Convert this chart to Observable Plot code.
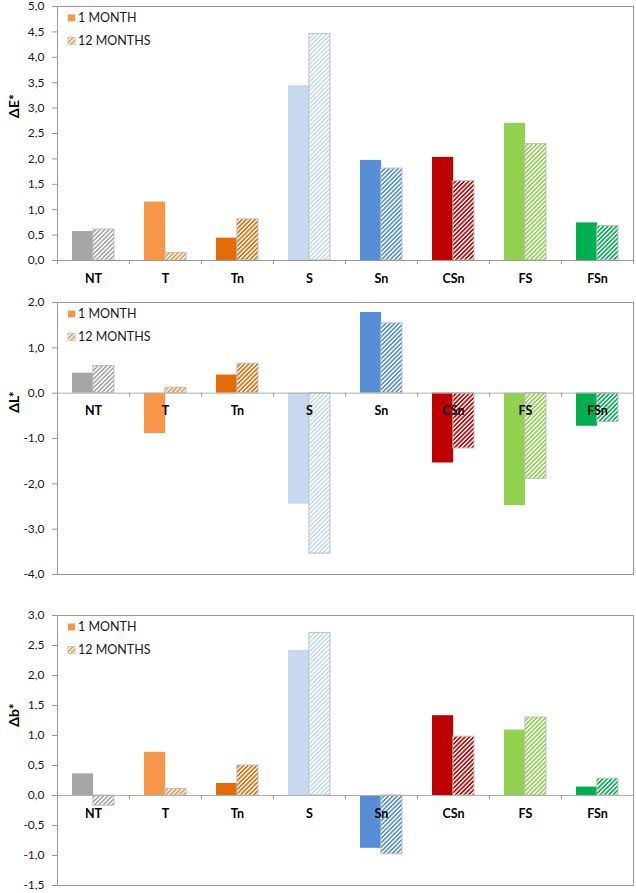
<!DOCTYPE html>
<html><head><meta charset="utf-8">
<script src="https://cdn.jsdelivr.net/npm/d3@7"></script>
<script src="https://cdn.jsdelivr.net/npm/@observablehq/plot@0.6"></script>
<style>
body{margin:0;background:#fff;width:636px;height:893px;overflow:hidden;font-family:Lato,sans-serif}
#chart svg{display:block}
.tick line{stroke:#999}
g[aria-label="y-axis tick"] path{stroke:#999}
</style></head><body>
<svg width="0" height="0" style="position:absolute"><defs id="defs"></defs></svg>
<div id="chart"></div>
<script>
const categories = ["NT","T","Tn","S","Sn","CSn","FS","FSn"];
const colors = ["#a6a6a6","#f79646","#e36c09","#c6d9f1","#558ed5","#c00000","#92d050","#00b050"];
const series = ["1 MONTH","12 MONTHS"];
const dE_1m  = [0.57, 1.15, 0.44, 3.44, 1.97, 2.03, 2.70, 0.74];
const dE_12m = [0.61, 0.15, 0.81, 4.46, 1.81, 1.56, 2.29, 0.68];
const dL_1m  = [0.44, -0.89, 0.40, -2.45, 1.78, -1.54, -2.48, -0.73];
const dL_12m = [0.60, 0.12, 0.65, -3.54, 1.54, -1.22, -1.89, -0.64];
const db_1m  = [0.36, 0.72, 0.20, 2.42, -0.88, 1.33, 1.09, 0.14];
const db_12m = [-0.17, 0.11, 0.50, 2.71, -0.98, 0.98, 1.30, 0.28];
const dE_ticks = [0, 0.5, 1, 1.5, 2, 2.5, 3, 3.5, 4, 4.5, 5];
const dL_ticks = [-4, -3, -2, -1, 0, 1, 2];
const db_ticks = [-1.5, -1, -0.5, 0, 0.5, 1, 1.5, 2, 2.5, 3];

// hatch patterns
const defs = d3.select("#defs");
colors.forEach((c, i) => {
  const p = defs.append("pattern").attr("id", `hatch-${i}`).attr("patternUnits", "userSpaceOnUse")
    .attr("width", 3.1).attr("height", 3.1).attr("patternTransform", "rotate(45)");
  p.append("rect").attr("width", 3.1).attr("height", 3.1).attr("fill", "#fff");
  p.append("rect").attr("width", 1.6).attr("height", 3.1).attr("fill", c);
});

const fmt = d => d.toFixed(1).replace(".", ",");

function panel({label, v1, v12, ticks, domain, height, marginTop, marginBottom}) {
  const W = 636, ML = 57, MR = 3, pIn = 0.42, pOut = 0.21;
  const step = (W - ML - MR) / categories.length;
  const bw = step * (1 - pIn);
  const rows1 = categories.map((c, i) => ({cat: c, value: v1[i], fill: colors[i]}));
  const rows12 = categories.map((c, i) => ({cat: c, value: v12[i], fill: `url(#hatch-${i})`}));
  const extras = () => {
    const g = d3.create("svg:g").attr("font-family", "Lato, sans-serif");
    const x0 = ML, y0 = marginTop;
    const items = [
      {label: series[0], fill: colors[1], stroke: "none"},
      {label: series[1], fill: "url(#hatch-1)", stroke: "#bfbfbf"}
    ];
    items.forEach((it, k) => {
      const cy = y0 + 12 + k * 23;
      g.append("rect").attr("x", x0 + 11).attr("y", cy - 3.5).attr("width", 7).attr("height", 7)
        .attr("fill", it.fill).attr("stroke", it.stroke).attr("stroke-width", 0.8);
      g.append("text").attr("x", x0 + 21).attr("y", cy).attr("dy", "0.35em")
        .attr("text-anchor", "start")
        .attr("font-size", 12.5).attr("fill", "#1a1a1a").text(it.label);
    });
    g.append("text").attr("transform", `translate(14,${y0 + 100}) rotate(-90)`)
      .attr("text-anchor", "middle").attr("dy", "0.35em").attr("font-size", 14)
      .attr("font-weight", "bold").attr("fill", "#000").text(label);
    return g.node();
  };
  return Plot.plot({
    width: W, height, marginLeft: ML, marginRight: MR, marginTop, marginBottom,
    style: {fontFamily: "Lato, sans-serif", fontSize: "12px", color: "#1a1a1a", background: "#fff", overflow: "visible"},
    x: {domain: categories, paddingInner: pIn, paddingOuter: pOut, axis: null},
    y: {domain, ticks, tickFormat: fmt, tickSize: 5, tickPadding: 8, label: null},
    color: {type: "identity"},
    marks: [
      Plot.barY(rows1, {x: "cat", y: "value", fill: "fill", insetRight: bw / 2}),
      Plot.barY(rows12, {x: "cat", y: "value", fill: "fill", stroke: "#bfbfbf", strokeWidth: 1, insetLeft: bw / 2}),
      Plot.ruleY([0], {stroke: "#b0b0b0"}),
      Plot.ruleX(categories, {x: d => d, y1: d => 0, y2: d => 0, dx: -step / 2, insetBottom: -4, stroke: "#999"}),
      Plot.ruleX(categories.slice(-1), {x: d => d, y1: d => 0, y2: d => 0, dx: step / 2, insetBottom: -4, stroke: "#999"}),
      Plot.text(categories, {x: d => d, y: d => 0, dy: 18, text: d => d, fontWeight: "bold", fontSize: 12.5, fill: "#000"}),
      Plot.frame({stroke: "#999"}),
      extras
    ]
  });
}

const chart = document.getElementById("chart");
chart.append(panel({label: "ΔE*", v1: dE_1m, v12: dE_12m, ticks: dE_ticks, domain: [0, 5], height: 296, marginTop: 6, marginBottom: 36}));
chart.append(panel({label: "ΔL*", v1: dL_1m, v12: dL_12m, ticks: dL_ticks, domain: [-4, 2], height: 313, marginTop: 6, marginBottom: 35}));
chart.append(panel({label: "Δb*", v1: db_1m, v12: db_12m, ticks: db_ticks, domain: [-1.5, 3], height: 284, marginTop: 6, marginBottom: 8}));
</script>
</body></html>
